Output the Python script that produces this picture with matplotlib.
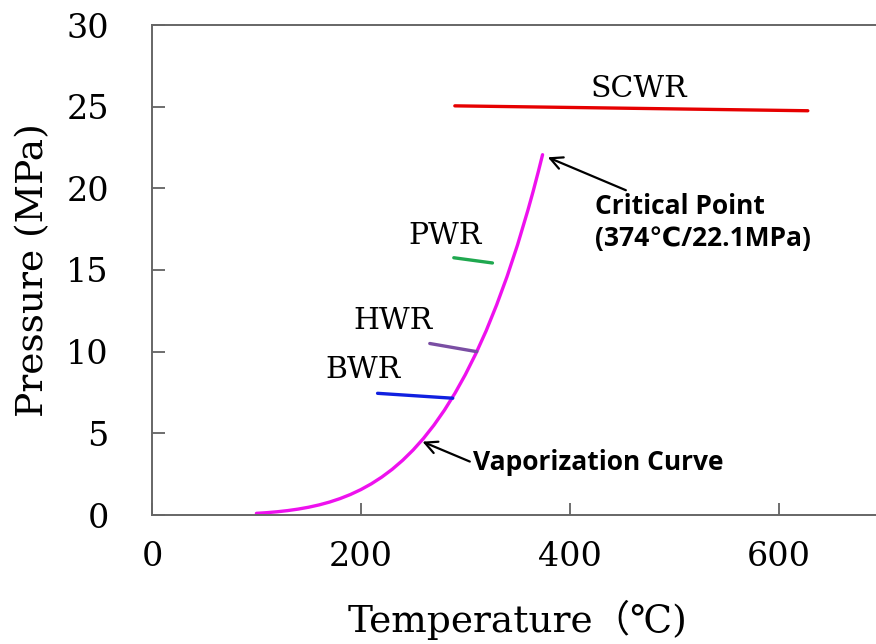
import numpy as np
import matplotlib.pyplot as plt

# saturation curve of water (temperature degC, pressure MPa)
sat_temp = [100, 110, 120, 130, 140, 150, 160, 170, 180, 190, 200, 210, 220, 230, 240,
            250, 260, 270, 280, 290, 300, 310, 320, 330, 340, 350, 360, 365, 370, 374]
sat_pres = [0.101, 0.143, 0.199, 0.270, 0.362, 0.476, 0.618, 0.792, 1.003, 1.255,
            1.555, 1.908, 2.320, 2.797, 3.347, 3.976, 4.692, 5.503, 6.417, 7.442,
            8.588, 9.865, 11.28, 12.86, 14.60, 16.53, 18.67, 19.82, 21.04, 22.06]

# reactor operating ranges: (T start, T end), (P start, P end)
reactors = ['SCWR', 'PWR', 'HWR', 'BWR']
reactor_temp = [(290, 628), (289, 326), (266, 311), (216, 288)]
reactor_pres = [(25.05, 24.75), (15.75, 15.43), (10.5, 10.0), (7.45, 7.15)]
reactor_colors = ['#e60000', '#1fa84f', '#7a4ea3', '#1020e0']
label_pos = [(466, 26.1), (281, 17.1), (231, 11.9), (202, 8.9)]

serif = ['DejaVu Serif', 'Noto Sans CJK JP', 'DejaVu Sans']
sans = ['Open Sans', 'DejaVu Sans']

fig = plt.figure(figsize=(8.76, 6.44), dpi=100)
ax = fig.add_axes([152 / 876, 129 / 644, 731 / 876, 490 / 644])

ax.plot(sat_temp, sat_pres, color='#ee11ee', lw=2.4, solid_capstyle='round',
        solid_joinstyle='round')
for name, t, p, c, lp in zip(reactors, reactor_temp, reactor_pres, reactor_colors, label_pos):
    ax.plot(t, p, color=c, lw=2.4, solid_capstyle='round')
    ax.text(lp[0], lp[1], name, family=serif, fontsize=21.5, ha='center', va='center')

ax.annotate('Critical Point\n(374℃/22.1MPa)', xy=(379, 21.9), xytext=(424, 17.9),
            family=sans, fontweight='bold', fontsize=19, ha='left', va='center',
            linespacing=1.25,
            arrowprops=dict(arrowstyle='->', color='black', lw=1.6,
                            shrinkA=0, shrinkB=0, mutation_scale=22))
ax.annotate('Vaporization Curve', xy=(259, 4.49), xytext=(307, 3.2),
            family=sans, fontweight='bold', fontsize=19, ha='left', va='center',
            arrowprops=dict(arrowstyle='->', color='black', lw=1.6,
                            shrinkA=0, shrinkB=0, mutation_scale=22,
                            relpos=(0, 0.5)))

ax.set_xlim(0, 700)
ax.set_ylim(0, 30)
ax.set_xticks([0, 200, 400, 600])
ax.set_yticks([0, 5, 10, 15, 20, 25, 30])
ax.tick_params(direction='in', length=9, width=1.2, color='#555555', labelsize=24)
ax.tick_params(axis='x', pad=19)
ax.tick_params(axis='y', pad=31)
for lab in ax.get_xticklabels() + ax.get_yticklabels():
    lab.set_family(serif)
for s in ['left', 'bottom', 'top']:
    ax.spines[s].set_color('#666666')
    ax.spines[s].set_linewidth(1.4)
ax.spines['right'].set_visible(False)

ax.set_xlabel('Temperature（℃)', family=serif, fontsize=27, va='center')
ax.xaxis.set_label_coords(0.5, -0.215)
ax.set_ylabel('Pressure (MPa)', family=serif, fontsize=27, va='center', ha='center')
ax.yaxis.set_label_coords(-0.163, 0.5)

fig.savefig('out.png', dpi=100)
